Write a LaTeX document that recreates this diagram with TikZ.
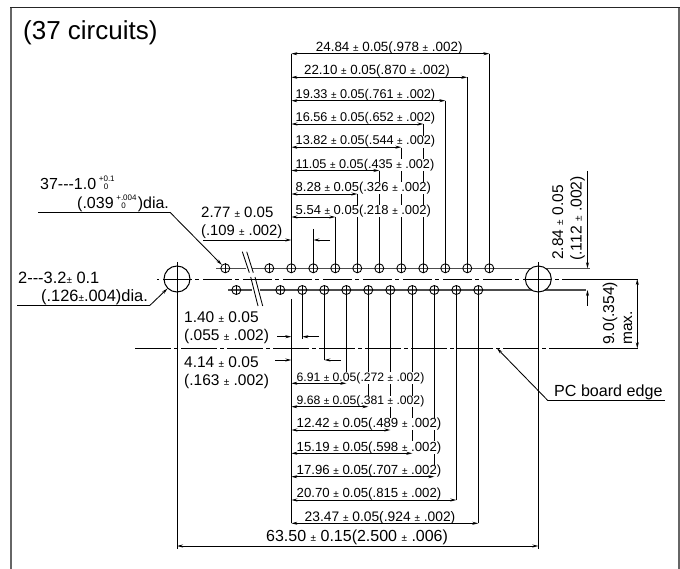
\documentclass[tikz,border=0pt]{standalone}
\usepackage{fontspec}
\setmainfont{Liberation Sans}
\usetikzlibrary{arrows.meta}
\newcommand{\tolpm}{{\fontsize{10}{10}\selectfont ±}}
\newcommand{\tolstack}[3]{\raisebox{#3pt}{\fontsize{8}{8}\selectfont\rlap{#1}}\raisebox{\numexpr#3-8\relax pt}{\fontsize{8}{8}\selectfont\hspace{5pt}#2}}
\tikzset{
  hole/.style={draw,circle,minimum size=9pt,inner sep=0pt,line width=.85pt},
  bighole/.style={draw,circle,fill=white,minimum size=26pt,inner sep=0pt,line width=1pt},
  dimtext/.style={inner sep=0pt,fill=white,font=\fontsize{#1}{#1}\selectfont,anchor=base west},
  lbl/.style={inner sep=0pt,font=\fontsize{#1}{#1}\selectfont,anchor=base west},
  dim/.style={line width=.85pt,-{Stealth[length=6pt,width=3pt]}},
  dimboth/.style={line width=.85pt,{Stealth[length=6pt,width=3pt]}-{Stealth[length=6pt,width=3pt]}},
  ext/.style={line width=.85pt},
  rowline/.style={line width=1.1pt,draw=black!70}
}
\begin{document}
\begin{tikzpicture}[x=1pt,y=-1pt]
\useasboundingbox (0,0) rectangle (680,569);
% frame
\draw[line width=1.6pt,draw=black!60] (11,569) -- (11,7.5) (679,7.5) -- (679,569);
\draw[line width=1pt,draw=black!85] (10.2,7.5) -- (679.8,7.5);
\node[lbl=26] (title) at (23,39.5) {(37 circuits)};
% row lines, centre lines
\coordinate (rowtl) at (216,268.3); \coordinate (rowtm) at (245.5,268.3);
\coordinate (rowtn) at (252,268.3); \coordinate (rowtr) at (590,268.3);
\coordinate (rowbl) at (228,290); \coordinate (rowbm) at (252,290);
\coordinate (rowbn) at (260,290); \coordinate (rowbr) at (586,290);
\draw[rowline] (rowtl) -- (rowtm) (rowtn) -- (rowtr);
\draw[rowline] (rowbl) -- (rowbm) (rowbn) -- (rowbr);
\coordinate (midl) at (157,279); \coordinate (mids) at (562,279); \coordinate (midr) at (638,279);
\coordinate (edgel) at (135,348.3); \coordinate (edges) at (562,348.3); \coordinate (edger) at (638,348.3);
\draw[ext,dash pattern=on 29pt off 3pt on 3.5pt off 4.5pt,dash phase=34pt] (midl) -- (mids);
\draw[ext] (mids) -- (midr);
\draw[ext,dash pattern=on 36pt off 3pt on 4pt off 3pt] (edgel) -- (edges);
\draw[ext] (edges) -- (edger);
% break marks
\foreach \xa/\xb/\ya/\yb in {242.3/249.3/251.7/272.7, 246.7/253.3/251.7/272.7, 250.7/258/277/306, 255/262.7/277/306}
  \draw[ext] (\xa,\ya) -- (\xb,\yb);
% verticals, top row
\foreach \n/\x/\y in {1/291.3/53.7, 2/313.3/229, 3/335.3/217, 4/357.3/194, 5/379.3/170.5, 6/401.3/147.2, 7/423.3/124, 8/445.3/100.7, 9/467.3/77.3, 10/489.3/53.7}
  \coordinate (v\n) at (\x,\y);
\foreach \n/\x in {1/291.3, 2/313.3, 3/335.3, 4/357.3, 5/379.3, 6/401.3, 7/423.3, 8/445.3, 9/467.3, 10/489.3}
  \coordinate (h\n) at (\x,268.3);
\foreach \n in {1,...,10}
  \draw[ext] (v\n) -- (h\n);
% verticals, bottom row
\foreach \n/\x/\y in {1/302.3/339, 2/324.3/360, 3/346.3/383.3, 4/368.3/406.7, 5/390.3/430, 6/412.3/453.3, 7/434.3/476.7, 8/456.3/500, 9/478.3/523.3}
  \coordinate (w\n) at (\x,\y);
\foreach \n/\x in {1/302.3, 2/324.3, 3/346.3, 4/368.3, 5/390.3, 6/412.3, 7/434.3, 8/456.3, 9/478.3}
  \coordinate (k\n) at (\x,290);
\foreach \n in {1,...,9}
  \draw[ext] (k\n) -- (w\n);
\coordinate (lowa) at (291.3,299); \coordinate (lowb) at (291.3,523.3);
\draw[ext] (lowa) -- (lowb);
% dimension texts, top
\node[dimtext=13.4] (d1) at (315.7,51.7) {24.84 \tolpm\ 0.05(.978 \tolpm\ .002)};
\node[dimtext=13.3] (d2) at (304,75) {22.10 \tolpm\ 0.05(.870 \tolpm\ .002)};
\node[dimtext=12.7] (d3) at (295.5,98.3) {19.33 \tolpm\ 0.05(.761 \tolpm\ .002)};
\node[dimtext=12.7] (d4) at (295.5,121.7) {16.56 \tolpm\ 0.05(.652 \tolpm\ .002)};
\node[dimtext=12.7] (d5) at (295.5,145) {13.82 \tolpm\ 0.05(.544 \tolpm\ .002)};
\node[dimtext=12.7] (d6) at (295.5,168.2) {11.05 \tolpm\ 0.05(.435 \tolpm\ .002)};
\node[dimtext=13] (d7) at (295.5,191.7) {8.28 \tolpm\ 0.05(.326 \tolpm\ .002)};
\node[dimtext=13] (d8) at (295.5,214.8) {5.54 \tolpm\ 0.05(.218 \tolpm\ .002)};
% dimension texts, bottom
\node[dimtext=12.2] (e1) at (296.5,381) {6.91 \tolpm\ 0.05(.272 \tolpm\ .002)};
\node[dimtext=12.2] (e2) at (296.5,404.4) {9.68 \tolpm\ 0.05(.381 \tolpm\ .002)};
\node[dimtext=13.2] (e3) at (296.5,427.7) {12.42 \tolpm\ 0.05(.489 \tolpm\ .002)};
\node[dimtext=13.2] (e4) at (296.5,451) {15.19 \tolpm\ 0.05(.598 \tolpm\ .002)};
\node[dimtext=13.2] (e5) at (296.5,474.4) {17.96 \tolpm\ 0.05(.707 \tolpm\ .002)};
\node[dimtext=13.2] (e6) at (296.5,497.7) {20.70 \tolpm\ 0.05(.815 \tolpm\ .002)};
\node[dimtext=13.8] (e7) at (304.5,521) {23.47 \tolpm\ 0.05(.924 \tolpm\ .002)};
% dimension lines
\foreach \n/\x/\y in {1/489.3/53.7, 2/467.3/77.3, 3/445.3/100.7, 4/423.3/124, 5/401.3/147.2, 6/379.3/170.5, 7/357.3/194, 8/335.3/217}
{
  \coordinate (ts\n) at (291.3,\y);
  \coordinate (te\n) at (\x,\y);
  \draw[dimboth] (ts\n) -- (te\n);
}
\foreach \n/\x/\y in {1/346.3/383.3, 2/368.3/406.7, 3/390.3/430, 4/412.3/453.3, 5/434.3/476.7, 6/456.3/500, 7/478.3/523.3}
{
  \coordinate (bs\n) at (291.3,\y);
  \coordinate (be\n) at (\x,\y);
  \draw[dimboth] (bs\n) -- (be\n);
}
% holes
\foreach \n/\x in {0/225.3, 1/269.3, 2/291.3, 3/313.3, 4/335.3, 5/357.3, 6/379.3, 7/401.3, 8/423.3, 9/445.3, 10/467.3, 11/489.3}
{
  \node[hole] (tophole\n) at (\x,268.3) {};
  \draw[ext] (tophole\n.north) -- (tophole\n.south);
}
\foreach \n/\x in {0/236.3, 1/280.3, 2/302.3, 3/324.3, 4/346.3, 5/368.3, 6/390.3, 7/412.3, 8/434.3, 9/456.3, 10/478.3}
{
  \node[hole] (bothole\n) at (\x,290) {};
  \draw[ext] (bothole\n.north) -- (bothole\n.south);
}
\node[bighole] (left) at (177,279) {};
\node[bighole] (right) at (538.3,279) {};
\coordinate (lefttop) at (177,262); \coordinate (leftbot) at (177,549);
\coordinate (righttop) at (538.3,262); \coordinate (rightbot) at (538.3,549);
\coordinate (lcl) at (164,279); \coordinate (lcr) at (190,279);
\coordinate (rcl) at (525,279); \coordinate (rcr) at (551,279);
\draw[ext] (lefttop) -- (leftbot) (righttop) -- (rightbot);
\draw[ext] (lcl) -- (lcr) (rcl) -- (rcr);
% overall
\node[lbl=16] (overall) at (266,541.5) {63.50 \tolpm\ 0.15(2.500 \tolpm\ .006)};
\coordinate (alls) at (177,546); \coordinate (alle) at (538.3,546);
\draw[dimboth] (alls) -- (alle);
% pitch labels
\node[lbl=15] (p1) at (201,218) {2.77 \tolpm\ 0.05};
\node[lbl=14.8] (p2) at (201,236) {(.109 \tolpm\ .002)};
\coordinate (p2a) at (203,240); \coordinate (p2b) at (291.3,240);
\coordinate (p2c) at (330,240); \coordinate (p2d) at (313.3,240);
\draw[dim] (p2a) -- (p2b);
\draw[dim] (p2c) -- (p2d);
\node[lbl=15.5] (q1) at (184,322.3) {1.40 \tolpm\ 0.05};
\node[lbl=15.5] (q2) at (184,341) {(.055 \tolpm\ .002)};
\coordinate (q2a) at (277,336.7); \coordinate (q2b) at (291.3,336.7);
\coordinate (q2c) at (319,336.7); \coordinate (q2d) at (302.3,336.7);
\draw[dim] (q2a) -- (q2b);
\draw[dim] (q2c) -- (q2d);
\node[lbl=15.5] (r1) at (184,367.3) {4.14 \tolpm\ 0.05};
\node[lbl=15.5] (r2) at (184,385.5) {(.163 \tolpm\ .002)};
\coordinate (r2a) at (275,360); \coordinate (r2b) at (291.3,360);
\coordinate (r2c) at (341,360); \coordinate (r2d) at (324.3,360);
\draw[dim] (r2a) -- (r2b);
\draw[dim] (r2c) -- (r2d);
% leaders
\node[lbl=16] (n1) at (40,189.5) {37-{}-{}-1.0\,\tolstack{+0.1}{0}{8}};
\node[lbl=16] (n2) at (77,209) {(.039\,\tolstack{+.004}{0}{8}\hspace{12pt})dia.};
\coordinate (n2a) at (38,212.3); \coordinate (n2b) at (170,212.3);
\draw[ext] (n2a) -- (n2b);
\draw[dim] (n2b) -- (tophole0.north west);
\node[lbl=16.4] (m1) at (18,284) {2-{}-{}-3.2\tolpm\ 0.1};
\node[lbl=16.4] (m2) at (41,301.7) {(.126\tolpm.004)dia.};
\coordinate (m2a) at (17,305.3); \coordinate (m2b) at (150,305.3);
\draw[ext] (m2a) -- (m2b);
\draw[dim] (m2b) -- (left.south west);
% right side
\coordinate (tuptop) at (587.5,171); \coordinate (tupa) at (587.5,268.3);
\coordinate (tupbot) at (587.5,305.7); \coordinate (tupb) at (587.5,290);
\draw[dim] (tuptop) -- (tupa);
\draw[dim] (tupbot) -- (tupb);
\node[lbl=15.5,rotate=90] (s1) at (563,260) {2.84 \tolpm\ 0.05};
\node[lbl=15.7,rotate=90] (s2) at (581.7,261) {(.112 \tolpm\ .002)};
\coordinate (maxa) at (637.3,279); \coordinate (maxb) at (637.3,348.3);
\draw[dimboth] (maxa) -- (maxb);
\node[lbl=15.7,rotate=90] (u1) at (614,345) {9.0(.354)};
\node[lbl=15.5,rotate=90] (u2) at (632,345) {max.};
\node[lbl=16.1] (pc) at (554,396.5) {PC board edge};
\coordinate (pca) at (665,400.7); \coordinate (pcb) at (548,400.7); \coordinate (pcc) at (497,348.3);
\draw[ext] (pca) -- (pcb);
\draw[dim] (pcb) -- (pcc);
\end{tikzpicture}
\end{document}
